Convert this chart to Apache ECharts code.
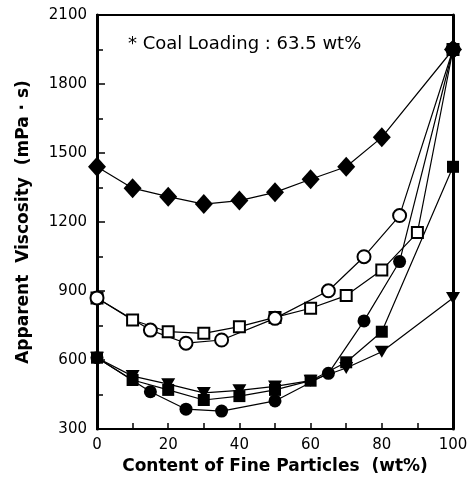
<!DOCTYPE html>
<html><head><meta charset="utf-8">
<script src="https://cdn.jsdelivr.net/npm/echarts@6/dist/echarts.min.js"></script>
<style>html,body{margin:0;padding:0;background:#fff}#c{width:471px;height:490px}</style>
</head><body><div id="c"></div>
<script>
const xDiamond = [0,10,20,30,40,50,60,70,80,100];
const yDiamond = [1440,1347,1310,1278,1293,1329,1386,1440,1568,1950];
const xOpenCircle = [0,15,25,35,50,65,75,85,100];
const yOpenCircle = [870,730,673,687,781,901,1049,1228,1950];
const xOpenSquare = [0,10,20,30,40,50,60,70,80,90,100];
const yOpenSquare = [870,774,723,716,745,785,825,880,991,1154,1950];
const xFilledCircle = [0,15,25,35,50,65,75,85,100];
const yFilledCircle = [610,462,386,378,422,542,770,1028,1950];
const xFilledSquare = [0,10,20,30,40,50,60,70,80,100];
const yFilledSquare = [610,513,470,426,443,470,510,590,723,1440];
const xTriangle = [0,10,20,30,40,50,60,70,80,100];
const yTriangle = [610,530,495,457,468,485,510,565,636,870];
const xTicks = [0,20,40,60,80,100];
const yTicks = [300,600,900,1200,1500,1800,2100];
const annotation = '* Coal Loading : 63.5 wt%';

const pairs = (xs, ys) => xs.map((x, i) => [x, ys[i]]);
function mk(name, xs, ys, symbol, size, filled, extra) {
  return Object.assign({
    name, type: 'line', data: pairs(xs, ys), symbol, symbolSize: size,
    lineStyle: { color: '#000', width: 1.2 },
    itemStyle: { color: filled ? '#000' : '#fff', borderColor: '#000', borderWidth: filled ? 0 : 2 },
    showAllSymbol: true, animation: false, z: filled ? 3 : 2
  }, extra || {});
}

const chart = echarts.init(document.getElementById('c'), null, { renderer: 'canvas' });
chart.setOption({
  backgroundColor: '#fff',
  animation: false,
  grid: { left: 97, right: 18, top: 15, bottom: 61, show: true, borderColor: '#000', borderWidth: 2 },
  xAxis: {
    type: 'value', min: 0, max: 100, interval: 10,
    name: 'Content of Fine Particles  (wt%)', nameLocation: 'middle', nameGap: 27,
    nameTextStyle: { fontFamily: 'DejaVu Sans', fontWeight: 'bold', fontSize: 17, color: '#000' },
    axisLine: { show: true, lineStyle: { color: '#000', width: 2 } },
    axisTick: { show: true, inside: true, length: 6, lineStyle: { color: '#000', width: 1.5 } },
    axisLabel: { color: '#000', fontFamily: 'DejaVu Sans', fontSize: 15, margin: 9,
      formatter: v => xTicks.indexOf(v) >= 0 ? String(v) : '' },
    splitLine: { show: false }
  },
  yAxis: [{
    type: 'value', min: 300, max: 2100, interval: 300,
    name: 'Apparent  Viscosity  (mPa · s)', nameLocation: 'middle', nameGap: 65,
    nameTextStyle: { fontFamily: 'DejaVu Sans', fontWeight: 'bold', fontSize: 17, color: '#000' },
    axisLine: { show: true, lineStyle: { color: '#000', width: 3 } },
    axisTick: { show: true, inside: true, length: 8, lineStyle: { color: '#000', width: 1.5 } },
    minorTick: { show: true, splitNumber: 2, length: 6, lineStyle: { color: '#000', width: 1.5 } },
    axisLabel: { color: '#000', fontFamily: 'DejaVu Sans', fontSize: 15, margin: 10,
      formatter: v => yTicks.indexOf(v) >= 0 ? String(v) : '' },
    splitLine: { show: false }
  }, {
    type: 'value', min: 300, max: 2100, interval: 300, position: 'right',
    axisLine: { show: true, lineStyle: { color: '#000', width: 3 } },
    axisTick: { show: false }, axisLabel: { show: false }, splitLine: { show: false }
  }],
  graphic: [{
    type: 'text', left: 128, top: 35,
    style: { text: annotation, fontFamily: 'DejaVu Sans', fontSize: 18, fill: '#000' }
  }],
  series: [
    mk('openSquare', xOpenSquare, yOpenSquare, 'rect', 11, false),
    mk('openCircle', xOpenCircle, yOpenCircle, 'circle', 13, false),
    mk('triangle', xTriangle, yTriangle, 'triangle', [14, 12], true, { symbolRotate: 180 }),
    mk('filledSquare', xFilledSquare, yFilledSquare, 'rect', 12, true),
    mk('filledCircle', xFilledCircle, yFilledCircle, 'circle', 13, true),
    mk('diamond', xDiamond, yDiamond, 'diamond', [18, 20], true)
  ]
});
</script></body></html>
